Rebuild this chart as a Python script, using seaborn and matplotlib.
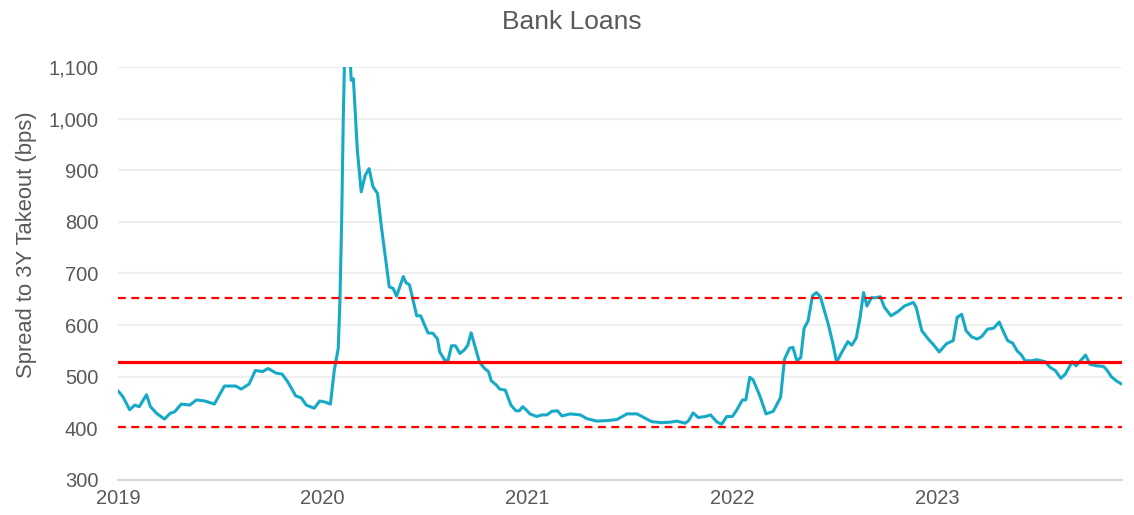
import pandas as pd
import matplotlib.pyplot as plt
import matplotlib.dates as mdates
import matplotlib.ticker as mticker
import seaborn as sns

# spread data (bps); the Feb-2020 spike runs off the top
dates = [
    "2019-01-01", "2019-01-10", "2019-01-22", "2019-01-31", "2019-02-08", "2019-02-21",
    "2019-02-28", "2019-03-11", "2019-03-25", "2019-04-04", "2019-04-12", "2019-04-24",
    "2019-05-09", "2019-05-21", "2019-06-05", "2019-06-22", "2019-07-10", "2019-07-30",
    "2019-08-09", "2019-08-23", "2019-09-03", "2019-09-16", "2019-09-26", "2019-10-10",
    "2019-10-21", "2019-10-31", "2019-11-14", "2019-11-24", "2019-12-03", "2019-12-17",
    "2019-12-27",
    "2020-01-05", "2020-01-15", "2020-01-22", "2020-01-29", "2020-02-01", "2020-02-04",
    "2020-02-07", "2020-02-15", "2020-02-20", "2020-02-21", "2020-02-25", "2020-03-03",
    "2020-03-10", "2020-03-17", "2020-03-24", "2020-03-31", "2020-04-08", "2020-04-15",
    "2020-04-29", "2020-05-06", "2020-05-12", "2020-05-24", "2020-05-29", "2020-06-04",
    "2020-06-17", "2020-06-24", "2020-07-07", "2020-07-16", "2020-07-24", "2020-07-28",
    "2020-08-06", "2020-08-12", "2020-08-18", "2020-08-25", "2020-09-02", "2020-09-10",
    "2020-09-16", "2020-09-22", "2020-10-07", "2020-10-16", "2020-10-23", "2020-10-28",
    "2020-11-06", "2020-11-12", "2020-11-22", "2020-12-02", "2020-12-11", "2020-12-17",
    "2020-12-23", "2020-12-29",
    "2021-01-05", "2021-01-17", "2021-01-26", "2021-02-04", "2021-02-13", "2021-02-23",
    "2021-03-03", "2021-03-18", "2021-04-05", "2021-04-16", "2021-05-04", "2021-05-22",
    "2021-06-09", "2021-06-27", "2021-07-15", "2021-07-27", "2021-08-10", "2021-08-28",
    "2021-09-12", "2021-09-24", "2021-10-09", "2021-10-15", "2021-10-23", "2021-11-01",
    "2021-11-14", "2021-11-23", "2021-12-05", "2021-12-13", "2021-12-22",
    "2022-01-01", "2022-01-08", "2022-01-19", "2022-01-25", "2022-02-01", "2022-02-07",
    "2022-02-19", "2022-03-02", "2022-03-15", "2022-03-28", "2022-04-04", "2022-04-13",
    "2022-04-19", "2022-04-26", "2022-05-03", "2022-05-09", "2022-05-16", "2022-05-24",
    "2022-05-31", "2022-06-07", "2022-06-21", "2022-06-29", "2022-07-06", "2022-07-14",
    "2022-07-26", "2022-08-02", "2022-08-10", "2022-08-17", "2022-08-23", "2022-08-29",
    "2022-09-06", "2022-09-14", "2022-09-22", "2022-09-29", "2022-10-11", "2022-10-23",
    "2022-11-04", "2022-11-20", "2022-11-25", "2022-12-05", "2022-12-18", "2022-12-25",
    "2023-01-05", "2023-01-18", "2023-01-30", "2023-02-06", "2023-02-14", "2023-02-22",
    "2023-03-04", "2023-03-14", "2023-03-22", "2023-04-01", "2023-04-12", "2023-04-22",
    "2023-04-30", "2023-05-07", "2023-05-16", "2023-05-24", "2023-05-31", "2023-06-07",
    "2023-06-19", "2023-06-28", "2023-07-13", "2023-07-22", "2023-07-31", "2023-08-10",
    "2023-08-18", "2023-08-30", "2023-09-06", "2023-09-23", "2023-10-01", "2023-10-13",
    "2023-10-25", "2023-10-31", "2023-11-08", "2023-11-17", "2023-11-26",
]
spread = [
    473, 461, 436, 445, 442, 465,
    442, 429, 418, 429, 432, 447,
    445, 455, 453, 447, 482, 482,
    476, 486, 512, 510, 516, 507,
    505, 490, 463, 459, 445, 439,
    453,
    451, 447, 513, 555, 648, 797,
    1003, 1400, 1100, 1074, 1077, 939,
    858, 890, 903, 868, 855, 790,
    674, 671, 656, 694, 682, 678,
    618, 618, 585, 584, 573, 548,
    532, 532, 560, 560, 545, 552,
    561, 585, 528, 516, 510, 492,
    484, 476, 474, 445, 434, 434,
    442, 436,
    428, 423, 426, 426, 433, 434,
    424, 428, 426, 419, 414, 415,
    417, 428, 428, 421, 413, 411,
    412, 414, 410, 415, 430, 421,
    423, 426, 412, 408, 423,
    423, 434, 455, 455, 499, 494,
    463, 428, 433, 460, 534, 555,
    557, 531, 537, 594, 608, 657,
    663, 655, 602, 566, 528, 545,
    568, 561, 575, 616, 663, 637,
    653, 653, 655, 635, 618, 626,
    637, 644, 634, 589, 571, 563,
    548, 564, 570, 615, 621, 589,
    577, 573, 578, 592, 594, 606,
    586, 570, 565, 550, 543, 531,
    531, 533, 529, 518, 512, 497,
    505, 529, 521, 542, 524, 521,
    520, 513, 500, 492, 486,
]
mean_level = 528
band_upper = 652
band_lower = 403

df = pd.DataFrame({"date": pd.to_datetime(dates), "spread": spread})

sns.set_style("white")
plt.rcParams["font.family"] = ["Liberation Sans", "DejaVu Sans"]

grey = "#595959"
fig, ax = plt.subplots(figsize=(11.34, 5.15), dpi=100)
fig.subplots_adjust(left=0.104, right=0.9894, bottom=0.068, top=0.870)

ax.yaxis.grid(True, color="#EFEFEF", linewidth=1.5)
ax.set_axisbelow(True)

sns.lineplot(data=df, x="date", y="spread", ax=ax, color="#16AAC7", linewidth=2.2)

ax.axhline(mean_level, color="#FF0000", linewidth=2.3, zorder=3)
ax.axhline(band_upper, color="#FF0000", linewidth=1.6, linestyle=(0, (3.5, 2.5)), zorder=3)
ax.axhline(band_lower, color="#FF0000", linewidth=1.6, linestyle=(0, (3.5, 2.5)), zorder=3)

ax.set_ylim(300, 1100)
ax.set_xlim(pd.Timestamp("2019-01-01"), pd.Timestamp("2023-11-27"))
ax.set_yticks(range(300, 1101, 100))
ax.yaxis.set_major_formatter(mticker.FuncFormatter(lambda v, p: f"{int(v):,}"))
ax.xaxis.set_major_locator(mdates.YearLocator())
ax.xaxis.set_major_formatter(mdates.DateFormatter("%Y"))

for s in ["top", "right", "left"]:
    ax.spines[s].set_visible(False)
ax.spines["bottom"].set_color("#D9D9D9")
ax.spines["bottom"].set_linewidth(1.5)

ax.tick_params(axis="x", colors="#D9D9D9", length=5, width=1.5, pad=1.5,
               labelcolor=grey, labelsize=14.5)
ax.tick_params(axis="y", length=0, pad=14, labelcolor=grey, labelsize=14.5)

ax.set_xlabel("")
ax.set_ylabel("Spread to 3Y Takeout (bps)", color=grey, fontsize=15.8)
ax.yaxis.set_label_coords(-0.081, 0.569)
fig.suptitle("Bank Loans", x=0.5044, y=0.958, va="center", color=grey, fontsize=19)

plt.savefig("out.png", dpi=100)
plt.close()
